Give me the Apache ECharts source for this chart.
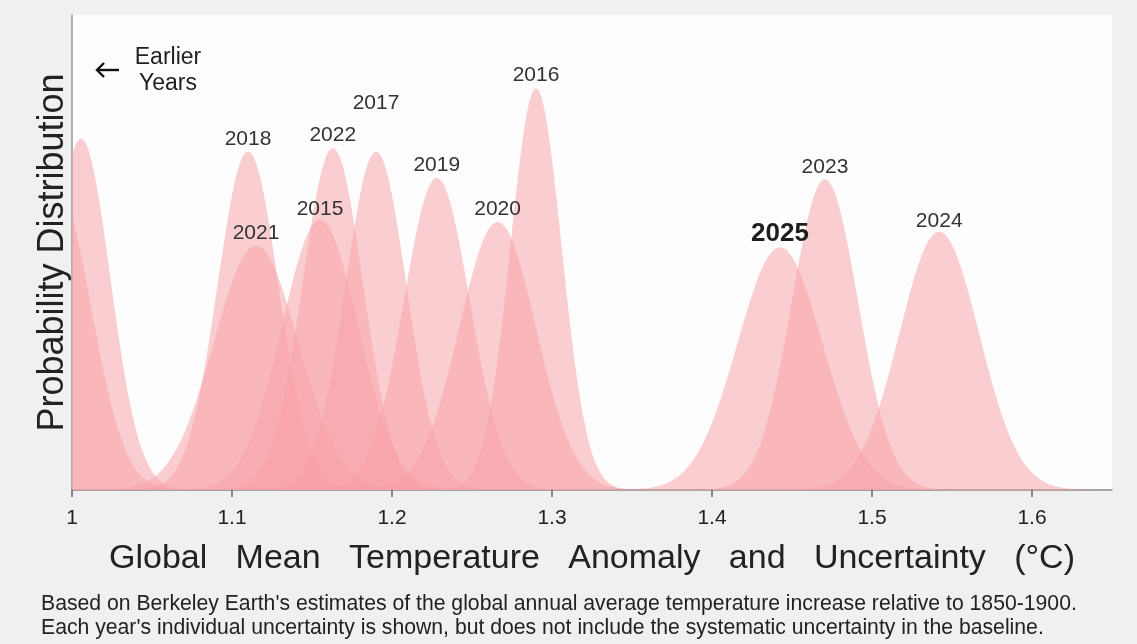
<!DOCTYPE html>
<html>
<head>
<meta charset="utf-8">
<script src="https://cdn.jsdelivr.net/npm/echarts@6/dist/echarts.min.js"></script>
<style>
  html, body { margin: 0; padding: 0; background: #f0f0f0; }
  #chart { width: 1137px; height: 644px; }
</style>
</head>
<body>
<div id="chart"></div>
<script>
// Annual global mean temperature anomaly (°C, relative to 1850-1900) and its 1-sigma uncertainty.
// Unnamed entries are earlier years, shown without a label.
const years  = ['',     '',     '2018', '2021', '2015', '2022', '2017', '2019', '2020', '2016', '2025', '2023', '2024'];
const means  = [0.9906, 1.0056, 1.110,  1.115,  1.155,  1.163,  1.190,  1.228,  1.266,  1.290,  1.4425, 1.4706, 1.542];
const sigmas = [0.0213, 0.0183, 0.0190, 0.0263, 0.0238, 0.0188, 0.0190, 0.0206, 0.0240, 0.0160, 0.0265, 0.0207, 0.0249];
const xTicks = [1, 1.1, 1.2, 1.3, 1.4, 1.5, 1.6];

// Label lift above each peak (px) and the highlighted year
const labelLift = { '2017': 38, '2015': 0, '2024': 0 };
const highlightYear = '2025';

const FONT = '"Liberation Sans", Arial, sans-serif';
const FILL = '#f7a0a6';

// Normal probability density for a year's estimate
function density(x, m, s) {
  const z = (x - m) / s;
  return Math.exp(-0.5 * z * z) / (s * Math.sqrt(2 * Math.PI));
}

const xs = [];
for (let i = 0; i <= 400; i++) xs.push(+(0.90 + i * 0.0019).toFixed(4));

const series = years.map((yr, i) => {
  const s = {
    type: 'line',
    name: yr,
    data: xs.map(x => [x, density(x, means[i], sigmas[i])]),
    showSymbol: false,
    symbol: 'none',
    smooth: false,
    silent: true,
    clip: true,
    lineStyle: { width: 0 },
    areaStyle: { color: FILL, opacity: 0.5 }
  };
  if (yr) {
    const big = yr === highlightYear;
    s.markPoint = {
      symbol: 'circle',
      symbolSize: 0,
      silent: true,
      data: [{ coord: [means[i], density(means[i], means[i], sigmas[i])], value: yr }],
      label: {
        show: true,
        position: 'top',
        distance: labelLift[yr] !== undefined ? labelLift[yr] : (big ? 0 : 2),
        formatter: yr,
        fontFamily: FONT,
        fontSize: big ? 26 : 21,
        fontWeight: big ? 'bold' : 'normal',
        color: big ? '#1e1e1e' : '#333'
      }
    };
  }
  return s;
});

const chart = echarts.init(document.getElementById('chart'), null, { renderer: 'canvas' });
chart.setOption({
  backgroundColor: '#f0f0f0',
  animation: false,
  textStyle: { fontFamily: FONT },
  grid: {
    left: 72, right: 25, top: 15, bottom: 154,
    show: true, backgroundColor: '#fdfdfd', borderWidth: 0
  },
  xAxis: {
    type: 'value',
    min: 1, max: 1.65, interval: 0.1,
    name: 'Global   Mean   Temperature   Anomaly   and   Uncertainty   (°C)',
    nameLocation: 'middle',
    nameGap: 52,
    nameTextStyle: { fontSize: 34, color: '#222', fontFamily: FONT },
    axisLine: { show: true, onZero: false, lineStyle: { color: '#8a8a8a', width: 1.5 } },
    axisTick: { show: true, length: 7, customValues: xTicks, lineStyle: { color: '#666', width: 1.5 } },
    axisLabel: {
      customValues: xTicks, fontSize: 21, color: '#222', margin: 18,
      formatter: v => String(+(+v).toFixed(2))
    },
    splitLine: { show: false }
  },
  yAxis: {
    type: 'value',
    min: 0, max: 29.46,
    name: 'Probability Distribution',
    nameLocation: 'middle',
    nameGap: 1,
    nameTextStyle: { fontSize: 36, color: '#222', fontFamily: FONT },
    axisLine: { show: true, lineStyle: { color: '#9a9a9a', width: 1.5 } },
    axisTick: { show: false },
    axisLabel: { show: false },
    splitLine: { show: false }
  },
  graphic: [
    {
      type: 'text', x: 168, y: 45,
      style: {
        text: 'Earlier\nYears', fontSize: 23, lineHeight: 26, fill: '#222',
        fontFamily: FONT, align: 'center'
      }
    },
    {
      type: 'polyline', silent: true,
      shape: { points: [[119, 70], [97, 70]] },
      style: { stroke: '#111', lineWidth: 2.4, fill: null }
    },
    {
      type: 'polyline', silent: true,
      shape: { points: [[104, 63], [97, 70], [104, 77]] },
      style: { stroke: '#111', lineWidth: 2.4, fill: null }
    },
    {
      type: 'text', left: 41, top: 592,
      style: {
        text: "Based on Berkeley Earth's estimates of the global annual average temperature increase relative to 1850-1900.\nEach year's individual uncertainty is shown, but does not include the systematic uncertainty in the baseline.",
        fontSize: 21.2, lineHeight: 24, fill: '#222', fontFamily: FONT
      }
    }
  ],
  series: series
});
</script>
</body>
</html>
